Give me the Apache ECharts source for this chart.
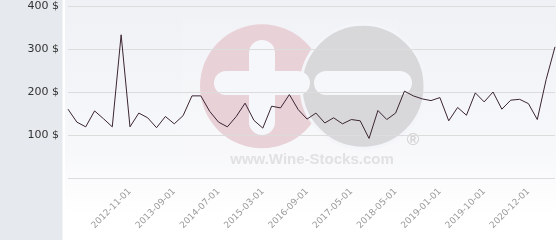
<!DOCTYPE html>
<html>
<head>
<meta charset="utf-8">
<script src="https://cdn.jsdelivr.net/npm/echarts@6/dist/echarts.min.js"></script>
<style>html,body{margin:0;padding:0;background:#fff;}#c{width:560px;height:240px;}</style>
</head>
<body>
<div id="c"></div>
<script>
var categories = [
  '2011-06-01','2011-08-01','2011-10-01','2012-01-01','2012-03-01','2012-06-01','2012-09-01',
  '2012-11-01','2013-01-01','2013-03-01','2013-05-01','2013-07-01',
  '2013-09-01','2013-11-01','2014-01-01','2014-03-01','2014-05-01',
  '2014-07-01','2014-09-01','2014-10-01','2014-12-01','2015-01-01',
  '2015-03-01','2015-06-01','2015-10-01','2016-01-01','2016-05-01',
  '2016-09-01','2016-10-01','2016-12-01','2017-02-01','2017-03-01',
  '2017-05-01','2017-07-01','2017-10-01','2018-01-01','2018-03-01',
  '2018-05-01','2018-06-01','2018-08-01','2018-10-01','2018-11-01',
  '2019-01-01','2019-03-01','2019-05-01','2019-06-01','2019-08-01',
  '2019-10-01','2020-01-01','2020-04-01','2020-07-01','2020-09-01',
  '2020-12-01','2021-03-01','2021-06-01','2021-09-01'
];
var prices = [
  160,130,119,156,138,119,333,119,151,140,
  117,143,126,145,191,191,155,130,119,143,
  174,134,116,167,163,194,159,137,151,128,
  140,126,136,133,92,157,136,151,202,191,
  184,180,187,133,164,146,198,177,200,160,
  181,183,173,136,229,305
];
var tickLabels = ['2012-11-01','2013-09-01','2014-07-01','2015-03-01','2016-09-01',
  '2017-05-01','2018-05-01','2019-01-01','2019-10-01','2020-12-01'];
var yTicks = [0,100,200,300,400];

var chart = echarts.init(document.getElementById('c'), null, {renderer:'canvas'});
chart.setOption({
  animation: false,
  backgroundColor: '#ffffff',
  grid: {left: 68, right: 5, top: 6, bottom: 62, containLabel: false},
  graphic: [
    {type:'rect', z:0, shape:{x:0,y:0,width:62.5,height:240}, style:{fill:'#e6eaee'}},
    {type:'rect', z:0, shape:{x:65,y:0,width:491,height:215},
     style:{fill:new echarts.graphic.LinearGradient(0,0,0,1,[
       {offset:0,color:'#eff1f5'},{offset:0.7,color:'#f7f8fa'},{offset:1,color:'#ffffff'}])}},
    {type:'rect', z:1, shape:{x:183,y:18,width:215,height:160}, style:{fill:'rgba(255,255,255,0.12)'}},
    {type:'circle', z:1, shape:{cx:262,cy:86.3,r:62}, style:{fill:'#e9d1d8'}},
    {type:'circle', z:1, shape:{cx:363,cy:86.3,r:62}, style:{fill:'#d8d8da', stroke:'#f4f5f8', lineWidth:3}},
    {type:'rect', z:1, shape:{x:249,y:40,width:26,height:95,r:13}, style:{fill:'#f6f7fa'}},
    {type:'rect', z:1, shape:{x:214,y:71,width:96,height:24,r:12}, style:{fill:'#f6f7fa'}},
    {type:'rect', z:1, shape:{x:314,y:71,width:98,height:24,r:12}, style:{fill:'#f6f7fa'}},
    {type:'text', z:1, x:312, y:160, style:{text:'www.Wine-Stocks.com', fill:'#e1e1e3',
      font:'bold 15px "Liberation Sans", Arial, sans-serif', textAlign:'center', textVerticalAlign:'middle'}},
    {type:'text', z:1, x:413, y:140, style:{text:'®', fill:'#d4d4d6',
      font:'bold 17px "Liberation Sans", Arial, sans-serif', textAlign:'center', textVerticalAlign:'middle'}}
  ],
  xAxis: {
    type: 'category',
    data: categories,
    boundaryGap: false,
    z: 3,
    axisLine: {show: false},
    axisTick: {show: false},
    splitLine: {show: false},
    axisLabel: {
      rotate: 45,
      margin: 12,
      color: '#9a9a9a',
      fontFamily: 'DejaVu Sans',
      fontSize: 9,
      interval: function (i, v) { return tickLabels.indexOf(v) >= 0; }
    }
  },
  yAxis: {
    type: 'value',
    min: yTicks[0],
    max: yTicks[yTicks.length-1],
    interval: 100,
    z: 3,
    axisLine: {show: false},
    axisTick: {show: false},
    splitLine: {show: true, lineStyle: {color: '#dcdcdc', width: 1}},
    axisLabel: {
      showMinLabel: false,
      margin: 9,
      color: '#333333',
      fontFamily: 'DejaVu Sans',
      fontSize: 11,
      formatter: '{value} $'
    }
  },
  series: [{
    type: 'line',
    z: 4,
    data: prices,
    showSymbol: false,
    symbol: 'none',
    lineStyle: {color: '#3b2532', width: 1},
    itemStyle: {color: '#3b2532'}
  }]
});
</script>
</body>
</html>
